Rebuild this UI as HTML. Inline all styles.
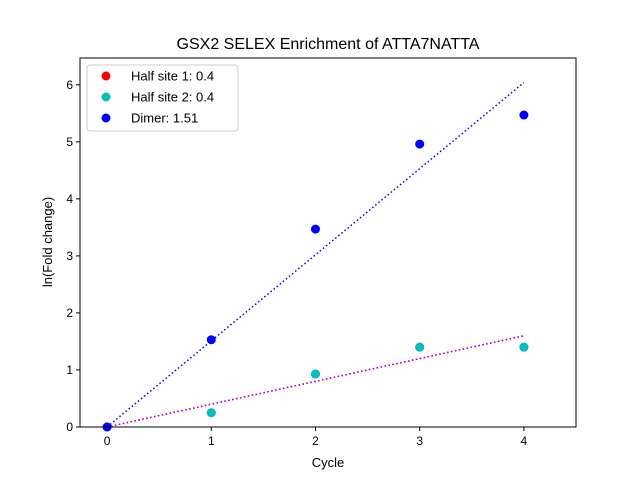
<!DOCTYPE html>
<html><head><meta charset="utf-8"><style>body{margin:0;background:#fff}svg{font-family:"Liberation Sans","DejaVu Sans",sans-serif}</style></head>
<body>
<svg id="chart" width="640" height="480" xmlns="http://www.w3.org/2000/svg">
<rect width="640" height="480" fill="#fff"/>
<text x="328" y="49" text-anchor="middle" font-size="16">GSX2 SELEX Enrichment of ATTA7NATTA</text>
<g id="plot"></g>
<text x="328" y="467" text-anchor="middle" font-size="13">Cycle</text>
<text transform="translate(52,242) rotate(-90)" text-anchor="middle" font-size="13">ln(Fold change)</text>
</svg>
<script>
const cycles=[0,1,2,3,4];
const half1=[0,0.25,0.93,1.4,1.4];
const half2=[0,0.25,0.93,1.4,1.4];
const dimer=[0,1.53,3.47,4.96,5.47];
const slopes=[0.4,0.4,1.51];
const xTicks=[0,1,2,3,4];
const yTicks=[0,1,2,3,4,5,6];
const legendLabels=["Half site 1: 0.4","Half site 2: 0.4","Dimer: 1.51"];
const L=80,R=576,T=58,B=427,xmin=-0.26,xmax=4.5,ymin=0,ymax=6.47;
const X=v=>L+(v-xmin)/(xmax-xmin)*(R-L);
const Y=v=>B-(v-ymin)/(ymax-ymin)*(B-T);
const ns="http://www.w3.org/2000/svg",g=document.getElementById('plot');
function mk(t,a){const e=document.createElementNS(ns,t);for(const k in a)e.setAttribute(k,a[k]);g.appendChild(e);return e;}
xTicks.forEach(v=>{
 const l=mk('line',{x1:X(v),x2:X(v),y1:B,y2:B+4,stroke:'#000'});
 
 
 const t=mk('text',{x:X(v),y:B+18,'text-anchor':'middle','font-size':12});t.textContent=v;
 
 
});
yTicks.forEach(v=>{
 const l=mk('line',{x1:L-4,x2:L,y1:Y(v),y2:Y(v),stroke:'#000'});
 
 
 const t=mk('text',{x:L-7,y:Y(v)+4,'text-anchor':'end','font-size':12});t.textContent=v;
 
 
});
const fits=[['m',slopes[0],'#bf00bf'],['m2',slopes[1],'#bf00bf'],['d',slopes[2],'#0000ff']];
fits.forEach(f=>{
 const l=mk('line',{x1:X(cycles[0]),y1:Y(f[1]*cycles[0]),x2:X(cycles[4]),y2:Y(f[1]*cycles[4]),stroke:f[2],'stroke-width':1.5,'stroke-dasharray':'1.5,2.5'});
 
 
});
[[half1,'#ff0000','half-site-1-point'],[half2,'#00bfbf','half-site-2-point'],[dimer,'#0000ff','dimer-point']].forEach(s=>{
 s[0].forEach((v,i)=>{
  const c=mk('circle',{cx:X(cycles[i]),cy:Y(v),r:4.5,fill:s[1]});
  
  
 });
});
const fr=mk('rect',{x:L,y:T,width:R-L,height:B-T,fill:'none',stroke:'#000'});


const lg=mk('rect',{x:87,y:65,width:151,height:66,rx:3,fill:'#fff','fill-opacity':0.8,stroke:'#ccc'});


const lc=['#ff0000','#00bfbf','#0000ff'];
legendLabels.forEach((s,i)=>{
 const y=76+i*21;
 const c=mk('circle',{cx:106,cy:y,r:4.5,fill:lc[i]});
 
 
 const t=mk('text',{x:131,y:y+4.5,'font-size':13});t.textContent=s;
 
 
});
</script>
</body></html>
